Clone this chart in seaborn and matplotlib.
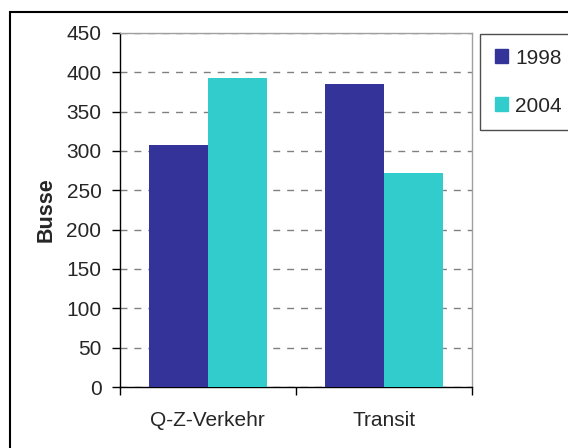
"""Busse: Q-Z-Verkehr vs Transit, 1998 und 2004."""

import matplotlib

matplotlib.use("Agg")
import matplotlib.pyplot as plt
import pandas as pd
import seaborn as sns
from matplotlib.patches import Rectangle
from matplotlib.ticker import FixedLocator

categories = ["Q-Z-Verkehr", "Transit"]
years = ["1998", "2004"]
values_1998 = [307, 385]
values_2004 = [393, 272]
y_ticks = [0, 50, 100, 150, 200, 250, 300, 350, 400, 450]

df = pd.DataFrame({
    "Kategorie": categories * 2,
    "Jahr": [years[0]] * 2 + [years[1]] * 2,
    "Busse": values_1998 + values_2004,
})

sns.set_style("white")
plt.rcParams["font.family"] = ["Liberation Sans", "DejaVu Sans"]

W, H = 568, 448
fs = 15
fig = plt.figure(figsize=(W / 100, H / 100), dpi=100)
ax = fig.add_axes([119.5 / W, 1 - 387 / H, 352.5 / W, 354 / H])

palette = {"1998": "#333399", "2004": "#33CCCC"}
sns.barplot(data=df, x="Kategorie", y="Busse", hue="Jahr", palette=palette,
            width=0.67, gap=0, saturation=1, linewidth=0, ax=ax,
            legend=False, zorder=3)

ax.set_ylim(0, 450)
ax.set_xlim(-0.5, 1.5)
ax.set_yticks(y_ticks)
ax.tick_params(axis="y", labelsize=fs, length=6, width=1, color="black",
               direction="out", left=True, pad=7)
ax.tick_params(axis="x", which="major", length=0, labelsize=fs, pad=17)
ax.xaxis.set_minor_locator(FixedLocator([-0.5, 0.5, 1.5]))
ax.tick_params(axis="x", which="minor", length=6, width=1, color="black",
               direction="out", bottom=True)
ax.set_xlabel("")
ax.set_ylabel("Busse", fontsize=15.5, fontweight="bold", labelpad=7)

ax.yaxis.grid(True, color="#808080", linestyle=(0, (5, 5)), linewidth=1)
ax.set_axisbelow(True)
for side in ["top", "right"]:
    ax.spines[side].set_color("#a0a0a0")
    ax.spines[side].set_linewidth(1)
for side in ["left", "bottom"]:
    ax.spines[side].set_color("black")
    ax.spines[side].set_linewidth(1)

# outer chart frame
fig.patches.append(Rectangle((10 / W, -0.1), 1.0, 1.1 - 12 / H,
                             transform=fig.transFigure, fill=False,
                             edgecolor="black", linewidth=1.5))

handles = [Rectangle((0, 0), 1, 1, color=palette[y]) for y in years]
leg = fig.legend(handles, years, loc="upper left",
                 bbox_to_anchor=(480 / W, 1 - 34 / H), fontsize=fs,
                 frameon=True, fancybox=False, shadow=False,
                 handlelength=0.65, handleheight=0.65, handletextpad=0.35,
                 labelspacing=1.4, borderpad=0.7, borderaxespad=0)
leg.get_frame().set_edgecolor("#202020")
leg.get_frame().set_linewidth(1)

fig.savefig("out.png", dpi=100)
